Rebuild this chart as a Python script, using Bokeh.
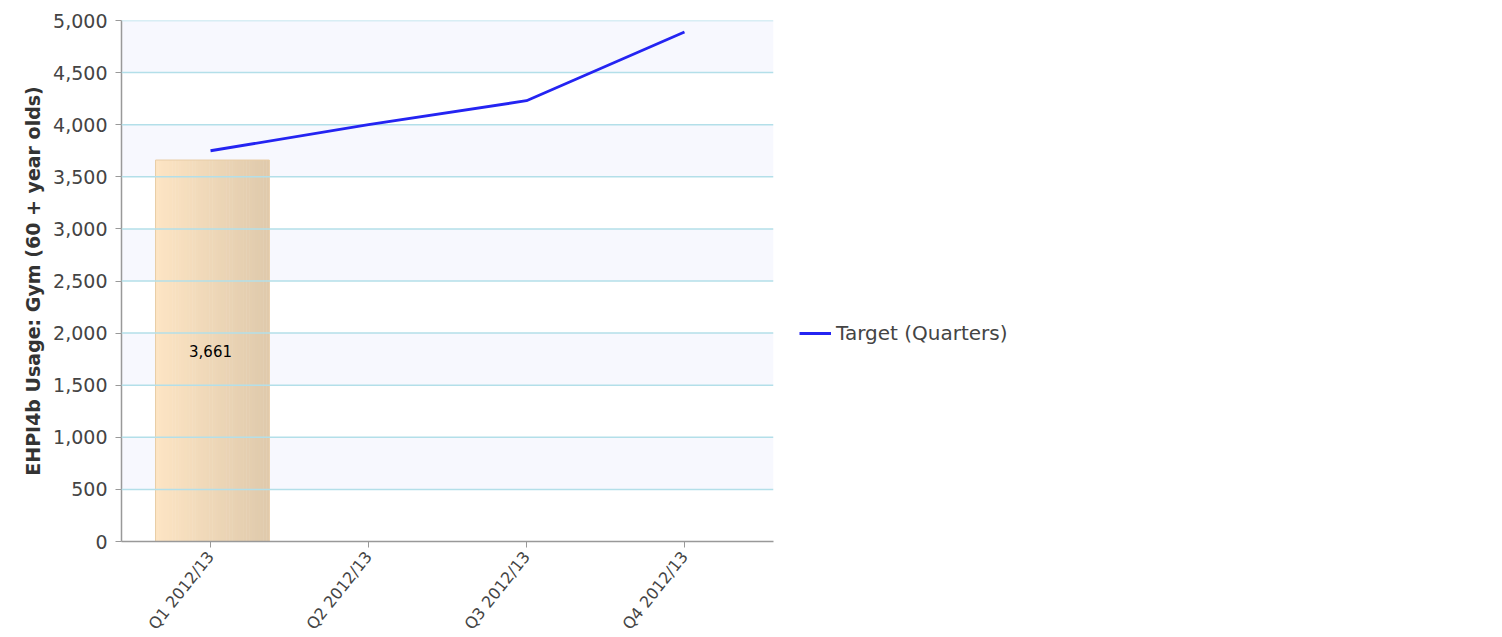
import numpy as np
from bokeh.plotting import figure
from bokeh.models import (ColumnDataSource, FactorRange, Legend, LegendItem, Span,
                          BoxAnnotation, NumeralTickFormatter, FixedTicker, LabelSet)
from bokeh.core.properties import value
from bokeh.transform import dodge
from bokeh.embed import file_html
from bokeh.resources import INLINE

# ---- data ----
quarters = ["Q1 2012/13", "Q2 2012/13", "Q3 2012/13", "Q4 2012/13"]
actual_quarters = ["Q1 2012/13"]
actual_values = [3661]
target_values = [3750, 4000, 4230, 4890]
y_ticks = [0, 500, 1000, 1500, 2000, 2500, 3000, 3500, 4000, 4500, 5000]
y_title = "EHPI4b Usage: Gym (60 + year olds)"
legend_label = "Target (Quarters)"

FONT = "DejaVu Sans"

p = figure(x_range=FactorRange(factors=quarters, range_padding=0.127 / 4),
           y_range=(0, 5000),
           width=1502, height=637,
           frame_width=652, frame_height=521,
           min_border_left=121, min_border_top=20, min_border_bottom=96, min_border_right=729,
           output_backend="svg", toolbar_location=None,
           background_fill_color="white", border_fill_color="white")
p.outline_line_color = None
p.xgrid.grid_line_color = None
p.ygrid.grid_line_color = None

# alternating bands
for lo, hi in zip(y_ticks[:-1], y_ticks[1:]):
    if (hi // 500) % 2 == 0:
        p.add_layout(BoxAnnotation(bottom=lo, top=hi, fill_color="#f7f8fe", fill_alpha=1.0,
                                   line_color=None, level="underlay"))

# gradient bar made of thin strips
bar_src = ColumnDataSource(dict(x=actual_quarters, top=actual_values,
                                half=[v / 2 for v in actual_values],
                                lab=[f"{v:,}" for v in actual_values]))
bar_w = 0.72
n = 40
c0 = np.array([253, 229, 196])
c1 = np.array([224, 202, 172])
sw = bar_w / n
for k in range(n):
    t = k / (n - 1)
    c = (c0 * (1 - t) + c1 * t).astype(int)
    col = "#%02x%02x%02x" % tuple(c)
    off = 0.012 - bar_w / 2 + (k + 0.5) * sw
    p.vbar(x=dodge("x", off, range=p.x_range), top="top", bottom=0, width=sw * 1.15,
           source=bar_src, fill_color=col, line_color=None)
p.vbar(x=dodge("x", 0.012, range=p.x_range), top="top", bottom=0, width=bar_w, source=bar_src,
       fill_color=None, line_color="#e8cda6", line_width=1)

# grid lines over bars
for v in y_ticks[1:]:
    p.add_layout(Span(location=v, dimension="width", line_color="#b3dfe9", line_width=1.5))

labels = LabelSet(x="x", y="half", text="lab", source=bar_src, text_align="center",
                  text_baseline="middle", text_font=value(FONT), text_font_size="15px",
                  text_color="#000000")
p.add_layout(labels)

tsrc = ColumnDataSource(dict(x=quarters, y=target_values))
line_r = p.line(x="x", y="y", source=tsrc, line_color="#2424f2", line_width=2.8, level="overlay")

# axes
p.yaxis.ticker = FixedTicker(ticks=y_ticks)
p.yaxis.formatter = NumeralTickFormatter(format="0,0")
p.yaxis.axis_label = y_title
p.yaxis.axis_label_text_font = FONT
p.yaxis.axis_label_text_font_style = "bold"
p.yaxis.axis_label_text_font_size = "19px"
p.yaxis.axis_label_text_color = "#333333"
p.yaxis.axis_label_standoff = 6
for ax in (p.xaxis[0], p.yaxis[0]):
    ax.axis_line_color = "#999999"
    ax.axis_line_width = 1.5
    ax.major_tick_line_color = "#999999"
    ax.major_tick_out = 6
    ax.major_tick_in = 0
    ax.minor_tick_line_color = None
    ax.major_label_text_font = FONT
    ax.major_label_text_color = "#444444"
p.yaxis.major_label_text_font_size = "19px"
p.yaxis.major_label_standoff = 8
p.xaxis.major_label_text_font_size = "16px"
p.xaxis.major_label_orientation = 0.9
p.xaxis.major_label_standoff = 6

legend = Legend(items=[LegendItem(label=legend_label, renderers=[line_r])],
                location=(26, 196), border_line_color=None, background_fill_alpha=0,
                label_text_font=FONT, label_text_font_size="20px", label_text_color="#444444",
                glyph_width=32, glyph_height=22, padding=4, margin=0, label_standoff=5)
p.add_layout(legend, "right")

open("out.html", "w").write(file_html(p, INLINE))
